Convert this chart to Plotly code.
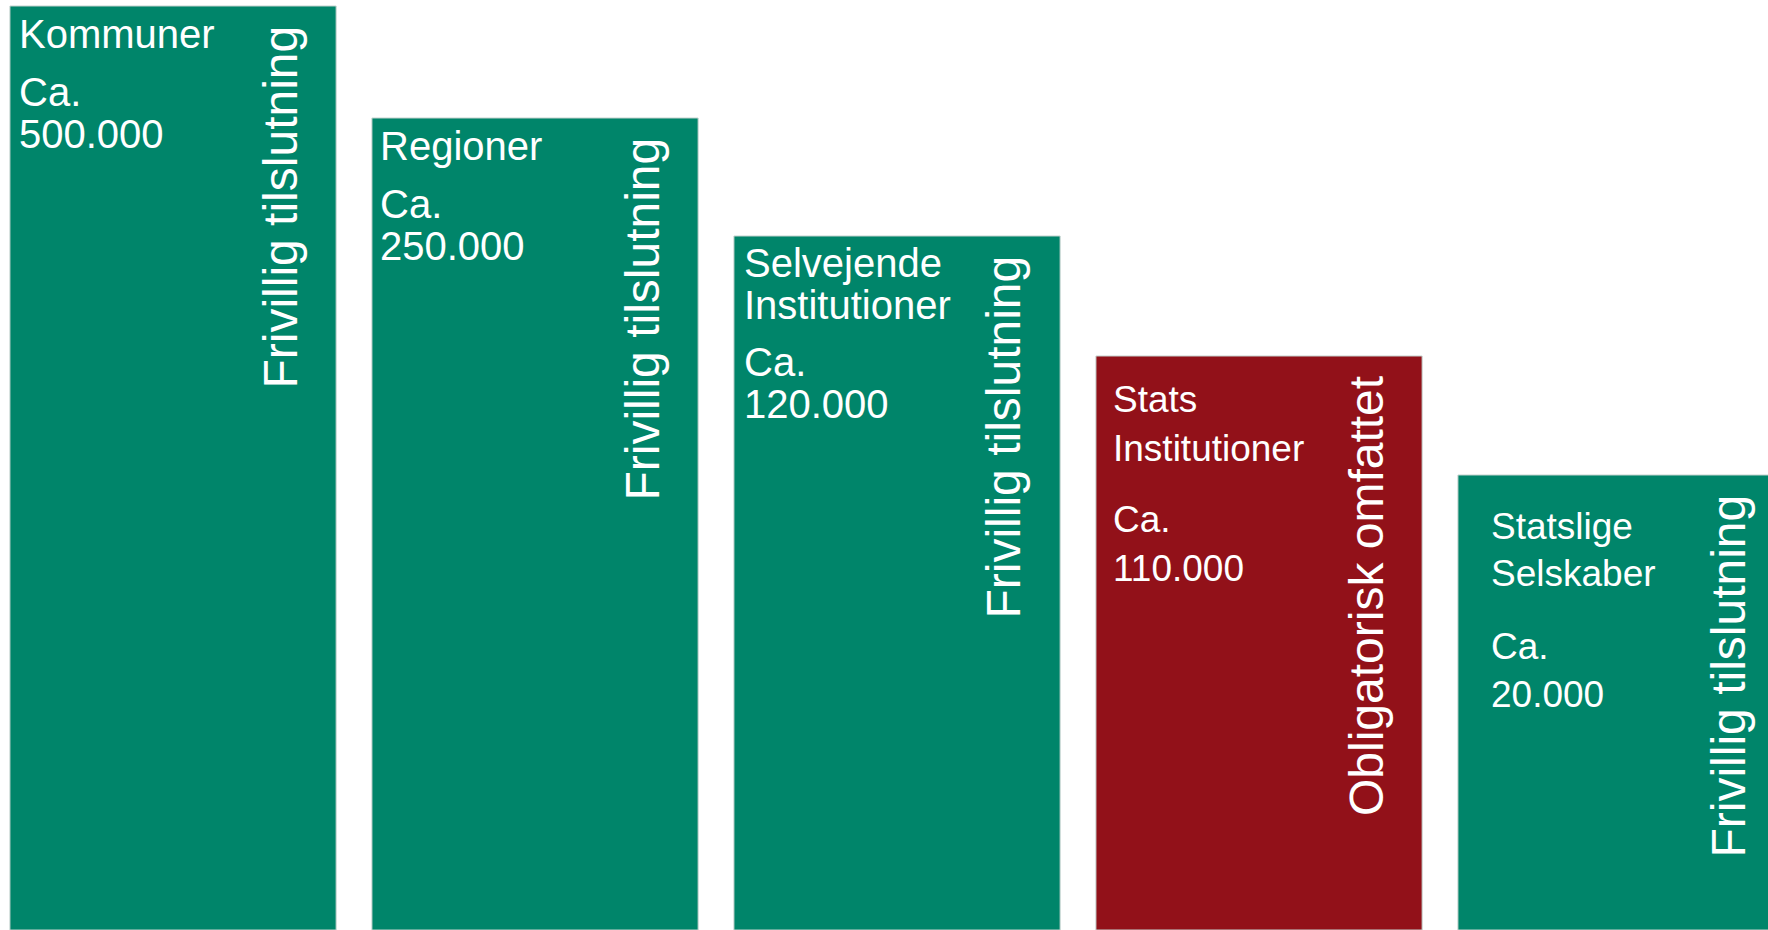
import plotly.graph_objects as go

# ---- data -------------------------------------------------------------
categories = ["Kommuner", "Regioner", "Selvejende Institutioner",
              "Stats Institutioner", "Statslige Selskaber"]
name_lines = [["Kommuner"], ["Regioner"], ["Selvejende", "Institutioner"],
              ["Stats", "Institutioner"], ["Statslige", "Selskaber"]]
employees = [500000, 250000, 120000, 110000, 20000]
affiliation = ["Frivillig tilslutning", "Frivillig tilslutning", "Frivillig tilslutning",
               "Obligatorisk omfattet", "Frivillig tilslutning"]
# display heights of the staircase bars (illustrative, not proportional to values)
step_height = [924, 812, 694, 574, 455]

# ---- styles -----------------------------------------------------------
GREEN = "#00856A"
RED = "#921119"
FONT = "Liberation Sans, Arial, sans-serif"
colors = [RED if a.startswith("Obligatorisk") else GREEN for a in affiliation]

fs_h = [40, 40, 40, 37, 37]          # horizontal label font sizes
indent = [9, 8, 10, 17, 33]          # px from bar left edge
first = [42, 42, 41, 56, 64]         # first baseline below bar top (px)
step = [42, 42, 42, 49, 47.5]        # line step (px)
gap = [58, 58, 57, 71, 73]           # last name line -> "Ca." (px)
vx = [107, 107, 106, 107, 107]       # vertical label centre offset from bar centre (px)
vtop = 20                            # vertical label top below bar top (px)
FS_V = 48

W = 0.901
XR = [-0.478, 4.406]
WIDTH, HEIGHT = 1768, 930
PX = WIDTH / (XR[1] - XR[0])         # pixels per x unit


def fmt(v):
    return f"{v:,}".replace(",", ".")


x = list(range(len(categories)))

fig = go.Figure(go.Bar(
    x=x, y=step_height, width=W,
    marker=dict(color=colors, line=dict(color="#c4d2ce", width=1)),
    hoverinfo="skip", showlegend=False,
))

ann = []
for i, h in enumerate(step_height):
    lines = list(name_lines[i])
    offs = [first[i] + k * step[i] for k in range(len(lines))]
    offs.append(offs[-1] + gap[i])
    lines.append("Ca.")
    offs.append(offs[-1] + step[i])
    lines.append(fmt(employees[i]))
    xl = i - W / 2 + indent[i] / PX
    for t, b in zip(lines, offs):
        ann.append(dict(
            x=xl, y=h - b + 0.3465 * fs_h[i], xref="x", yref="y",
            text=t, showarrow=False, xanchor="left", yanchor="middle",
            borderpad=0, borderwidth=0,
            font=dict(family=FONT, size=fs_h[i], color="white"),
        ))
    ann.append(dict(
        x=i + vx[i] / PX, y=h - vtop, xref="x", yref="y",
        text=affiliation[i], showarrow=False, textangle=-90,
        xanchor="center", yanchor="top", borderpad=0, borderwidth=0,
        font=dict(family=FONT, size=FS_V, color="white"),
    ))

fig.update_layout(
    width=WIDTH, height=HEIGHT,
    margin=dict(l=0, r=0, t=0, b=0),
    paper_bgcolor="white", plot_bgcolor="white",
    annotations=ann,
)
fig.update_xaxes(visible=False, range=XR, fixedrange=True)
fig.update_yaxes(visible=False, range=[0, HEIGHT], fixedrange=True)

fig.write_html("out.html", config={"displayModeBar": False})
